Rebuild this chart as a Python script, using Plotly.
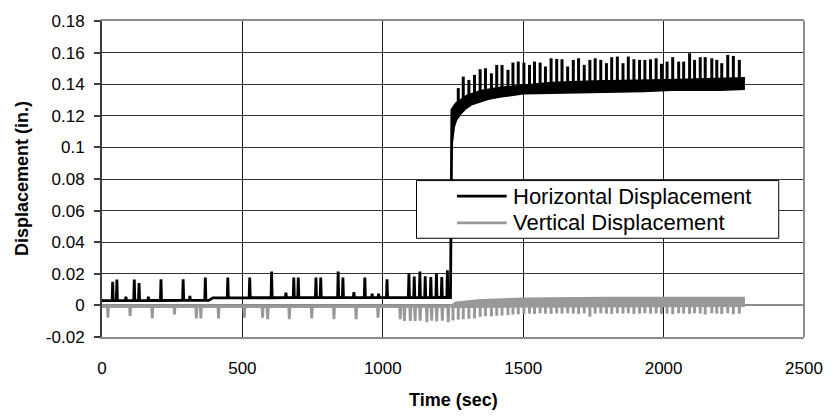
import numpy as np
import plotly.graph_objects as go

# ---------------- Horizontal displacement ----------------
# baseline before the transition (sec, in.)
H_BASE_T = [0, 380, 395, 1241]
H_BASE_V = [0.0030, 0.0032, 0.0048, 0.0050]
# isolated spikes before the transition
H_PRE_SPIKE_T = [38, 53, 115, 132, 210, 289, 368, 448, 526, 604, 683, 699, 762, 779,
                 841, 858, 936, 1015, 1093, 1112, 1132, 1151, 1171, 1191, 1210, 1230]
H_PRE_SPIKE_V = [0.0149, 0.0164, 0.0164, 0.0141, 0.0166, 0.0166, 0.0177, 0.0177, 0.0177,
                 0.0215, 0.0177, 0.0177, 0.0177, 0.0177, 0.0215, 0.0177, 0.0177, 0.0166,
                 0.0202, 0.0183, 0.0215, 0.0185, 0.0179, 0.0204, 0.0179, 0.0223]
# small bumps on the baseline
H_BUMP_T = [85, 165, 313, 655, 897, 962, 985]
H_BUMP_V = [0.0055, 0.0055, 0.0060, 0.0080, 0.0084, 0.0074, 0.0074]
# the step itself
H_JUMP_T = [1241, 1242.5, 1244, 1246]
H_JUMP_V = [0.0050, 0.0600, 0.1150, 0.1240]
# lower / upper edge of the oscillation band after the step
H_LO_T = [1244, 1247.5, 1254.6, 1262.9, 1274.7, 1292.4, 1316, 1339.6, 1375, 1422,
          1500, 1599, 1753, 1930, 2048, 2200, 2287]
H_LO_V = [0.0950, 0.1030, 0.1130, 0.1175, 0.1206, 0.1240, 0.1270, 0.1286, 0.1305, 0.1320,
          0.1339, 0.1343, 0.1347, 0.1354, 0.1364, 0.1362, 0.1368]
H_HI_T = [1244, 1260, 1300, 1350, 1420, 1500, 1600, 1750, 1900, 2050, 2287]
H_HI_V = [0.1240, 0.1280, 0.1330, 0.1360, 0.1380, 0.1395, 0.1410, 0.1420, 0.1425, 0.1430, 0.1440]
# load cycles after the step: time of each cycle and peak horizontal displacement
CYCLE_T = [1268.8, 1286.5, 1306.5, 1326.6, 1346.7, 1365.6, 1386.8, 1405.7, 1424.6, 1445.8,
           1463.5, 1482.4, 1502.5, 1522.5, 1540.2, 1560.3, 1579.2, 1599.3, 1619.3, 1638.2,
           1658.3, 1678.4, 1697.2, 1717.3, 1737.4, 1756.3, 1776.3, 1796.4, 1815.2, 1835.3,
           1855.4, 1874.3, 1894.3, 1914.4, 1933.3, 1953.3, 1973.4, 1992.3, 2012.4, 2032.4,
           2053.7, 2071.4, 2092.6, 2110.3, 2130.4, 2148.1, 2171.7, 2189.4, 2207.1, 2228.4,
           2248.4, 2269.7]
H_PEAK_V = [0.1375, 0.1448, 0.1427, 0.1459, 0.1495, 0.1501, 0.1469, 0.1522, 0.1522, 0.1491,
            0.1537, 0.1543, 0.1537, 0.1522, 0.1543, 0.1537, 0.1512, 0.1564, 0.1560, 0.1558,
            0.1512, 0.1554, 0.1564, 0.1522, 0.1554, 0.1564, 0.1554, 0.1533, 0.1571, 0.1575,
            0.1533, 0.1575, 0.1558, 0.1554, 0.1554, 0.1558, 0.1564, 0.1529, 0.1543, 0.1571,
            0.1543, 0.1543, 0.1596, 0.1554, 0.1571, 0.1571, 0.1564, 0.1554, 0.1533, 0.1585,
            0.1579, 0.1554]

# ---------------- Vertical displacement ----------------
V_BASE_T = [0, 1241]
V_BASE_V = [-0.0008, -0.0008]
V_PRE_SPIKE_T = [21, 100, 179, 258, 336, 352, 415, 507, 572, 590, 667, 747, 826, 905, 983,
                 1062, 1077, 1098, 1115, 1133, 1157, 1174, 1192, 1212, 1233]
V_PRE_SPIKE_V = [-0.0078, -0.0067, -0.0082, -0.0057, -0.0082, -0.0082, -0.0082, -0.0078,
                 -0.0078, -0.0088, -0.0088, -0.0082, -0.0088, -0.0088, -0.0078, -0.0088,
                 -0.0099, -0.0099, -0.0099, -0.0096, -0.0106, -0.0096, -0.0101, -0.0096, -0.0106]
V_LO_T = [1243, 2287]
V_LO_V = [-0.0012, -0.0006]
V_HI_T = [1243, 1260, 1350, 1500, 1800, 2287]
V_HI_V = [0.0000, 0.0020, 0.0035, 0.0045, 0.0050, 0.0050]
V_TOOTH_T = [1250] + CYCLE_T
V_TOOTH_V = [-0.0095, -0.0090, -0.0088, -0.0085, -0.0082, -0.0072, -0.0068, -0.0070, -0.0066,
             -0.0064, -0.0062, -0.0058, -0.0056, -0.0054, -0.0052, -0.0054, -0.0050, -0.0052,
             -0.0054, -0.0050, -0.0052, -0.0050, -0.0052, -0.0054, -0.0050, -0.0072, -0.0052,
             -0.0050, -0.0052, -0.0054, -0.0050, -0.0052, -0.0050, -0.0054, -0.0052, -0.0050,
             -0.0052, -0.0050, -0.0054, -0.0052, -0.0056, -0.0050, -0.0052, -0.0054, -0.0050,
             -0.0052, -0.0058, -0.0050, -0.0052, -0.0054, -0.0050, -0.0056, -0.0052]

# axis ticks
X_TICKS = [0, 500, 1000, 1500, 2000, 2500]
Y_TICKS = [-0.02, 0, 0.02, 0.04, 0.06, 0.08, 0.1, 0.12, 0.14, 0.16, 0.18]
Y_TICK_TEXT = ["-0.02", "0", "0.02", "0.04", "0.06", "0.08", "0.1", "0.12", "0.14", "0.16", "0.18"]

SERIES_NAMES = ["Horizontal Displacement", "Vertical Displacement"]
BLACK = "#000000"
GRAY = "#999999"
FONT = "Liberation Sans, Arial, sans-serif"


def spiky_line(base_t, base_v, spike_t, spike_v, half=2.0):
    """Baseline polyline with narrow spikes inserted at the given times."""
    pts = list(zip(base_t, base_v))
    for t, v in zip(spike_t, spike_v):
        b = float(np.interp(t, base_t, base_v))
        pts += [(t - half, b), (t, v), (t + half, b)]
    pts.sort(key=lambda p: p[0])
    return [p[0] for p in pts], [p[1] for p in pts]


def segments(ts, tops, lo_t, lo_v):
    xs, ys = [], []
    for t, v in zip(ts, tops):
        xs += [t, t, None]
        ys += [float(np.interp(t, lo_t, lo_v)), v, None]
    return xs, ys


fig = go.Figure()

# horizontal: baseline with spikes, then the step
hx, hy = spiky_line(H_BASE_T, H_BASE_V,
                    H_PRE_SPIKE_T + H_BUMP_T, H_PRE_SPIKE_V + H_BUMP_V)
hx += H_JUMP_T[1:]
hy += H_JUMP_V[1:]
fig.add_trace(go.Scatter(x=hx, y=hy, mode="lines", line=dict(color=BLACK, width=2.8),
                         showlegend=False, hoverinfo="skip"))
# horizontal: oscillation band
fig.add_trace(go.Scatter(x=H_LO_T + H_HI_T[::-1], y=H_LO_V + H_HI_V[::-1], mode="lines",
                         fill="toself", fillcolor=BLACK, line=dict(color=BLACK, width=1.5),
                         showlegend=False, hoverinfo="skip"))
# horizontal: cycle peaks
sx, sy = segments(CYCLE_T, H_PEAK_V, H_LO_T, H_LO_V)
fig.add_trace(go.Scatter(x=sx, y=sy, mode="lines", line=dict(color=BLACK, width=3),
                         showlegend=False, hoverinfo="skip"))

# vertical: baseline with downward spikes
vx, vy = spiky_line(V_BASE_T, V_BASE_V, V_PRE_SPIKE_T, V_PRE_SPIKE_V)
fig.add_trace(go.Scatter(x=vx, y=vy, mode="lines", line=dict(color=GRAY, width=2.8),
                         showlegend=False, hoverinfo="skip"))
# vertical: oscillation band after the step
fig.add_trace(go.Scatter(x=V_LO_T + V_HI_T[::-1], y=V_LO_V + V_HI_V[::-1], mode="lines",
                         fill="toself", fillcolor=GRAY, line=dict(color=GRAY, width=1.5),
                         showlegend=False, hoverinfo="skip"))
# vertical: cycle troughs
tx, ty = segments(V_TOOTH_T, V_TOOTH_V, V_LO_T, V_LO_V)
fig.add_trace(go.Scatter(x=tx, y=ty, mode="lines", line=dict(color=GRAY, width=3),
                         showlegend=False, hoverinfo="skip"))

# legend box drawn in data space
LEG_X0, LEG_X1, LEG_Y0, LEG_Y1 = 1120, 2410, 0.0425, 0.0790
LEG_ROWS = [0.0692, 0.0522]
LEG_LINE_X = [1264, 1441]
LEG_TEXT_X = 1458
shapes = [
    dict(type="rect", xref="x", yref="y", x0=LEG_X0, x1=LEG_X1, y0=LEG_Y0, y1=LEG_Y1,
         line=dict(color="#000000", width=1), fillcolor="white", layer="above"),
    dict(type="line", xref="x", yref="y", x0=LEG_LINE_X[0], x1=LEG_LINE_X[1],
         y0=LEG_ROWS[0], y1=LEG_ROWS[0], line=dict(color=BLACK, width=2.8), layer="above"),
    dict(type="line", xref="x", yref="y", x0=LEG_LINE_X[0], x1=LEG_LINE_X[1],
         y0=LEG_ROWS[1], y1=LEG_ROWS[1], line=dict(color=GRAY, width=2.8), layer="above"),
    # right edge of the plot frame
    dict(type="line", xref="paper", yref="paper", x0=1, x1=1, y0=0, y1=1,
         line=dict(color="#8c8c8c", width=2), layer="above"),
]
annotations = [
    dict(xref="x", yref="y", x=LEG_TEXT_X, y=LEG_ROWS[0], text=SERIES_NAMES[0], showarrow=False,
         xanchor="left", yanchor="middle", font=dict(family=FONT, size=22, color="#000")),
    dict(xref="x", yref="y", x=LEG_TEXT_X, y=LEG_ROWS[1], text=SERIES_NAMES[1], showarrow=False,
         xanchor="left", yanchor="middle", font=dict(family=FONT, size=22, color="#000")),
    dict(xref="paper", yref="paper", x=0, y=0.5, xshift=-80, text="<b>Displacement (in.)</b>",
         textangle=-90, showarrow=False, xanchor="center", yanchor="middle",
         font=dict(family=FONT, size=18, color="#000")),
    dict(xref="paper", yref="paper", x=0.5, y=0, yshift=-63, text="<b>Time (sec)</b>",
         showarrow=False, xanchor="center", yanchor="middle",
         font=dict(family=FONT, size=18, color="#000")),
]

fig.update_layout(
    width=835, height=419,
    margin=dict(l=102, r=28, t=17, b=82),
    paper_bgcolor="white", plot_bgcolor="white",
    font=dict(family=FONT, size=17, color="#000"),
    showlegend=False,
    shapes=shapes, annotations=annotations,
)
fig.update_xaxes(range=[0, 2500], tickvals=X_TICKS, showgrid=True, gridcolor="#1a1a1a",
                 gridwidth=1, showline=True, linecolor="#8c8c8c", linewidth=2, mirror=True,
                 zeroline=False, ticks="", ticklabelstandoff=15,
                 tickfont=dict(family=FONT, size=17, color="#000"))
fig.update_yaxes(range=[-0.02, 0.18], tickvals=Y_TICKS, ticktext=Y_TICK_TEXT, showgrid=True,
                 gridcolor="#333333", gridwidth=1, showline=True, linecolor="#3c3c3c",
                 linewidth=2, zeroline=True, zerolinecolor="#8c8c8c", zerolinewidth=2,
                 ticks="outside", ticklen=6, tickcolor="#3c3c3c", tickwidth=1.5,
                 ticklabelstandoff=6,
                 tickfont=dict(family=FONT, size=17, color="#000"))

fig.write_html("out.html")
